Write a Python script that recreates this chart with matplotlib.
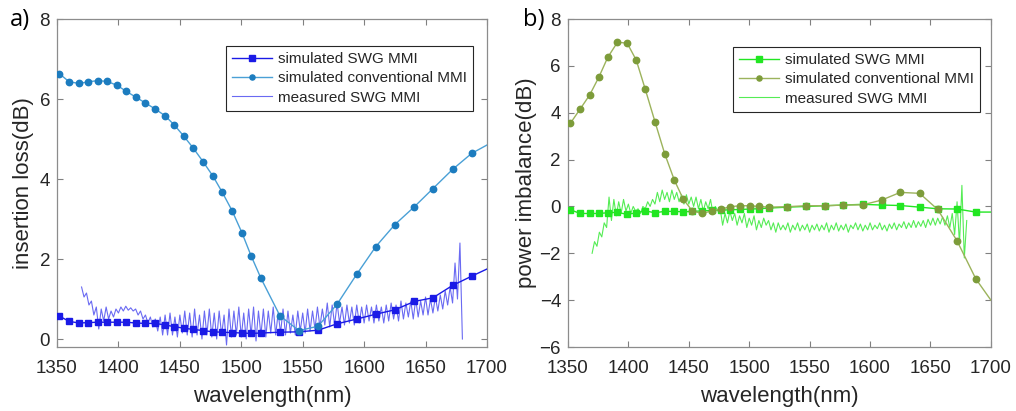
import numpy as np
import matplotlib
matplotlib.use("Agg")
from matplotlib import pyplot as plt

plt.rcParams['font.family'] = ['Liberation Sans', 'DejaVu Sans']

# simulated wavelength grid (nm); last point only carries the line to the edge
sim_wl = [1352, 1360, 1368, 1375.5, 1383, 1391, 1399, 1406.5, 1414, 1422,
          1430, 1438, 1445.5, 1453, 1461, 1469, 1477, 1484.5, 1492.5, 1500.5,
          1508, 1516, 1531.5, 1547, 1562.5, 1578, 1594, 1609.5, 1625, 1641,
          1656, 1672, 1687.5, 1700]

# a) insertion loss (dB)
il_swg = [0.57, 0.44, 0.40, 0.41, 0.42, 0.42, 0.42, 0.42, 0.40, 0.39,
          0.39, 0.35, 0.31, 0.27, 0.24, 0.21, 0.18, 0.17, 0.16, 0.15,
          0.14, 0.15, 0.17, 0.18, 0.22, 0.38, 0.50, 0.62, 0.73, 0.94,
          1.03, 1.34, 1.57, 1.75]
il_conv = [6.63, 6.43, 6.39, 6.43, 6.46, 6.44, 6.34, 6.19, 6.05, 5.90,
           5.75, 5.58, 5.35, 5.08, 4.77, 4.43, 4.07, 3.67, 3.21, 2.66,
           2.08, 1.52, 0.58, 0.21, 0.32, 0.87, 1.62, 2.31, 2.86, 3.31,
           3.76, 4.24, 4.64, 4.85]

# b) power imbalance (dB)
pi_swg = [-0.14, -0.30, -0.30, -0.30, -0.27, -0.25, -0.34, -0.27, -0.19, -0.27,
          -0.21, -0.21, -0.23, -0.21, -0.19, -0.17, -0.16, -0.14, -0.13, -0.11,
          -0.10, -0.07, -0.03, 0.00, 0.03, 0.06, 0.09, 0.06, 0.04, -0.03,
          -0.10, -0.11, -0.24, -0.24]
pi_conv = [3.55, 4.15, 4.76, 5.51, 6.37, 7.01, 6.97, 6.25, 5.00, 3.62,
           2.26, 1.13, 0.30, -0.19, -0.30, -0.19, -0.11, -0.01, 0.03, 0.03,
           0.00, -0.03, -0.01, 0.03, 0.03, 0.06, 0.07, 0.27, 0.60, 0.56,
           -0.13, -1.47, -3.09, -4.00]

# measured SWG MMI, sampled every 2 nm from 1370 to 1680
meas_wl = np.arange(1370, 1681, 2)
il_meas = [1.30, 1.05, 1.15, 0.85, 0.95, 0.60, 0.80, 0.25, 0.75, 0.45,
           0.80, 0.50, 0.70, 0.55, 0.75, 0.65, 0.80, 0.70, 0.82, 0.72,
           0.78, 0.70, 0.75, 0.60, 0.70, 0.50, 0.60, 0.40, 0.55, 0.30,
           0.50, 0.20, 0.55, 0.10, 0.60, 0.10, 0.65, 0.10, 0.55, 0.05,
           0.60, 0.15, 0.70, 0.10, 0.65, 0.05, 0.75, 0.10, 0.60, 0.00,
           0.70, 0.10, 0.75, 0.05, 0.65, 0.00, 0.70, 0.10, 0.60, -0.15,
           0.75, 0.05, 0.70, 0.10, 0.80, 0.05, 0.65, 0.00, 0.75, 0.10,
           0.80, -0.05, 0.70, 0.10, 0.75, 0.05, 0.70, 0.15, 0.80, 0.10,
           0.65, 0.15, 0.75, 0.10, 0.70, 0.15, 0.60, 0.10, 0.70, 0.20,
           0.65, 0.15, 0.75, 0.20, 0.70, 0.25, 0.80, 0.30, 0.75, 0.35,
           0.90, 0.30, 0.85, 0.35, 0.90, 0.40, 0.80, 0.35, 0.85, 0.40,
           0.80, 0.35, 0.85, 0.40, 0.80, 0.40, 0.85, 0.45, 0.80, 0.40,
           0.85, 0.45, 0.80, 0.40, 0.85, 0.45, 0.90, 0.50, 0.85, 0.45,
           0.95, 0.50, 0.90, 0.55, 0.95, 0.50, 1.00, 0.55, 0.95, 0.60,
           1.05, 0.60, 1.00, 0.65, 1.05, 0.70, 1.10, 0.75, 1.20, 0.85,
           1.30, 0.90, 1.90, 1.00, 2.40, 0.00]
pi_meas = [-2.0, -1.5, -1.7, -1.1, -1.3, -0.7, -0.9, 0.4, -0.6, 0.3,
           -0.4, 0.2, -0.3, 0.3, -0.2, 0.1, -0.3, 0.0, -0.2, -0.1,
           -0.3, 0.0, -0.1, 0.2, 0.0, 0.3, 0.1, 0.6, 0.2, 0.7,
           0.3, 0.6, 0.2, 0.7, 0.3, 0.6, 0.2, 0.5, 0.1, 0.5,
           0.1, 0.4, 0.0, 0.4, -0.1, 0.3, -0.2, 0.2, -0.1, 0.3,
           -0.3, 0.0, -0.2, -0.1, -0.8, -0.3, -0.7, -0.2, -0.6, -0.3,
           -0.8, -0.4, -0.7, -0.3, -0.9, -0.5, -0.8, -0.4, -1.0, -0.6,
           -0.9, -0.5, -0.8, -0.6, -1.0, -0.7, -1.1, -0.7, -1.0, -0.8,
           -1.0, -0.7, -1.1, -0.8, -1.0, -0.7, -1.05, -0.8, -1.0, -0.75,
           -1.1, -0.8, -1.0, -0.75, -1.05, -0.8, -1.0, -0.7, -1.1, -0.8,
           -1.0, -0.7, -1.05, -0.8, -1.0, -0.75, -1.1, -0.8, -0.95, -0.7,
           -1.0, -0.75, -1.05, -0.8, -1.0, -0.7, -1.0, -0.8, -0.95, -0.7,
           -1.0, -0.8, -1.05, -0.75, -0.95, -0.7, -1.0, -0.75, -0.9, -0.65,
           -0.95, -0.7, -0.9, -0.6, -0.9, -0.65, -0.85, -0.6, -0.9, -0.55,
           -0.8, -0.5, -0.8, -0.5, -0.75, -0.45, -0.8, -0.4, -0.9, -0.3,
           -1.2, 0.2, -1.6, 0.9, -2.2, -0.6]

labels = ['simulated SWG MMI', 'simulated conventional MMI', 'measured SWG MMI']
xticks = np.arange(1350, 1701, 50)
grey = '#262626'
marks = slice(0, -1)

fig = plt.figure(figsize=(10.16, 4.11), dpi=100)
ax1 = fig.add_axes([0.0561, 0.1557, 0.4232, 0.798])
ax2 = fig.add_axes([0.559, 0.1557, 0.4163, 0.798])

# panel a
ax1.plot(sim_wl, il_swg, color='#1a1ae6', lw=1.0, marker='s', ms=5,
         markevery=marks, label=labels[0], zorder=3)
ax1.plot(sim_wl, il_conv, color='#4aa0d6', lw=1.0, marker='o', ms=4.6,
         mfc='#1c7cbf', mec='#1c7cbf', markevery=marks, label=labels[1], zorder=3)
ax1.plot(meas_wl, il_meas, color='#6a6af2', lw=0.8, label=labels[2], zorder=2)
ax1.set_ylim(-0.2, 8)
ax1.set_yticks([0, 2, 4, 6, 8])
ax1.set_ylabel('insertion loss(dB)', fontsize=16, color=grey, labelpad=4)

# panel b
ax2.plot(sim_wl, pi_swg, color='#22e622', lw=1.0, marker='s', ms=5,
         markevery=marks, label=labels[0], zorder=3)
ax2.plot(sim_wl, pi_conv, color='#9cb35c', lw=1.0, marker='o', ms=4.6,
         mfc='#7d9c3a', mec='#7d9c3a', markevery=marks, label=labels[1], zorder=3)
ax2.plot(meas_wl, pi_meas, color='#55ec55', lw=0.8, label=labels[2], zorder=2)
ax2.set_ylim(-6, 8)
ax2.set_yticks(np.arange(-6, 9, 2))
ax2.set_ylabel('power imbalance(dB)', fontsize=16, color=grey, labelpad=2)

for ax, anchor in ((ax1, (0.967, 0.918)), (ax2, (0.974, 0.915))):
    ax.set_xlim(1350, 1700)
    ax.set_xticks(xticks)
    ax.set_xlabel('wavelength(nm)', fontsize=16, color=grey, labelpad=7)
    ax.tick_params(direction='in', length=4, width=0.8, color='#808080',
                   labelcolor=grey, labelsize=13.5, top=True, right=True)
    ax.tick_params(axis='x', pad=9)
    ax.tick_params(axis='y', pad=5)
    for sp in ax.spines.values():
        sp.set_color('#8c8c8c')
        sp.set_linewidth(0.9)
    leg = ax.legend(loc='upper right', bbox_to_anchor=anchor, fontsize=11,
                    fancybox=False, framealpha=1, edgecolor=grey,
                    handlelength=2.6, labelspacing=0.35, borderpad=0.4,
                    handletextpad=0.4, borderaxespad=0, markerscale=0.8)
    leg.get_frame().set_linewidth(0.8)
    for t in leg.get_texts():
        t.set_color(grey)

fig.text(0.010, 0.951, 'a)', fontsize=17, family='Open Sans', color='black', va='center')
fig.text(0.515, 0.951, 'b)', fontsize=17, family='Open Sans', color='black', va='center')

fig.savefig('out.png', dpi=100)
